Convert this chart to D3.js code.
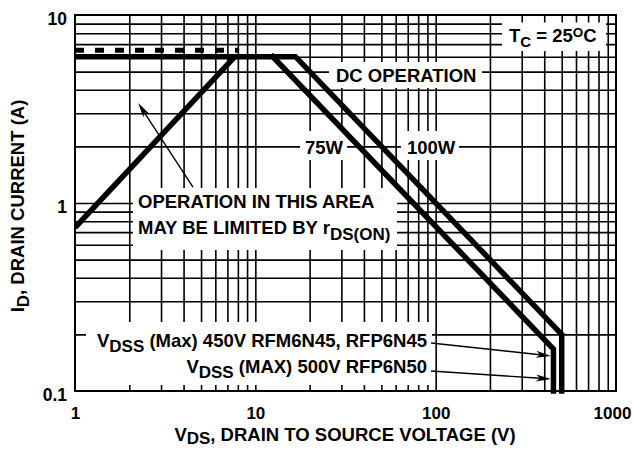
<!DOCTYPE html>
<html><head><meta charset="utf-8">
<script src="https://cdn.jsdelivr.net/npm/d3@7"></script>
<style>
body{margin:0;background:#fff}
text{font-family:"Liberation Sans",Arial,Helvetica,sans-serif;font-weight:bold;fill:#000}
</style>
</head><body>
<svg id="c" width="634" height="449"></svg>
<script>
// ---- data ----
const xTickValues = [1, 10, 100, 1000];
const xTickLabels = ["1", "10", "100", "1000"];
const yTickValues = [0.1, 1, 10];
const yTickLabels = ["0.1", "1", "10"];
const xGridValues = [2,3,4,5,6,7,8,9,10,20,30,40,50,60,70,80,90,100,200,300,400,500,600,700,800,900];
const yGridValues = [0.2,0.3,0.4,0.5,0.6,0.7,0.8,0.9,1,2,3,4,5,6,7,8,9];
// rDS(on) limit line
const rdsV = [1, 7.7];
const rdsI = [0.74, 6];
// dashed current limit
const dashV = [1, 8];
const dashI = [6.5, 6.5];
// 100W DC operation boundary (500V)
const w100V = [1, 16.7, 500, 500];
const w100I = [6, 6, 0.2, 0.1];
// 75W DC operation boundary (450V)
const w75V = [12.5, 450, 450];
const w75I = [6, 0.167, 0.1];

// ---- layout ----
const L = 75, R = 616, T = 15, B = 391;
const svg = d3.select("#c");
const x = d3.scaleLog().domain([1, 1000]).range([L, R]);
const y = d3.scaleLog().domain([0.1, 10]).range([B, T]);

// grid
const gx = svg.append("g").attr("transform", `translate(0,${B})`)
  .call(d3.axisBottom(x).tickValues(xGridValues).tickSize(-(B - T)).tickFormat(""));
const gy = svg.append("g").attr("transform", `translate(${L},0)`)
  .call(d3.axisLeft(y).tickValues(yGridValues).tickSize(-(R - L)).tickFormat(""));
[gx, gy].forEach(g => {
  g.select(".domain").remove();
  g.selectAll("line").attr("stroke", "#000").attr("stroke-width", 1.6);
});
svg.append("rect").attr("x", L).attr("y", T).attr("width", R - L).attr("height", B - T)
  .attr("fill", "none").attr("stroke", "#000").attr("stroke-width", 2);

// tick labels
const ax = svg.append("g").attr("transform", `translate(0,${B})`)
  .call(d3.axisBottom(x).tickValues(xTickValues).tickSize(0).tickPadding(16)
    .tickFormat((d, i) => xTickLabels[i]));
ax.select(".domain").remove();
ax.selectAll("text").attr("font-size", 17).attr("dy", 0).attr("y", 27.5)
  .attr("dx", d => d === 1000 ? -4 : 0);
const ay = svg.append("g").attr("transform", `translate(67,0)`)
  .call(d3.axisLeft(y).tickValues(yTickValues).tickSize(0).tickPadding(0)
    .tickFormat((d, i) => yTickLabels[i]));
ay.select(".domain").remove();
ay.selectAll("text").attr("font-size", 17.5).attr("dy", 9).attr("x", 0);
svg.selectAll(".tick text").attr("font-family", '"Liberation Sans",Arial,sans-serif')
  .attr("font-weight", "bold").attr("fill", "#000");

// white label boxes
const boxes = [
  [502, 22.5, 104, 28.5],   // Tc
  [329, 62, 153, 26],       // DC operation
  [300, 131, 47, 29],       // 75W
  [401, 131, 58, 29],       // 100W
  [133, 188, 264, 62],      // operation in this area
  [86, 322, 346, 63]        // VDSS
];
boxes.forEach(b => svg.append("rect").attr("x", b[0]).attr("y", b[1])
  .attr("width", b[2]).attr("height", b[3]).attr("fill", "#fff"));

// labels
const FS = 18.5, SUB = 17;
function label(xp, yp, parts, anchor) {
  const t = svg.append("text").attr("x", xp).attr("y", yp).attr("font-size", FS)
    .attr("text-anchor", anchor || "start");
  let cur = 0;
  parts.forEach(p => {
    const shift = p[1] || 0;
    t.append("tspan").attr("dy", shift - cur).attr("font-size", p[2] || FS).text(p[0]);
    cur = shift;
  });
  return t;
}
label(509, 42, [["T"], ["C", 5, 15], [" = 25", 0], ["O", -5, 13.5], ["C", 0]]);
label(336, 82, [["DC OPERATION"]]);
label(305, 154, [["75W"]]);
label(407, 154, [["100W"]]);
label(138, 208, [["OPERATION IN THIS AREA"]]);
label(138, 234, [["MAY BE LIMITED BY r"], ["DS(ON)", 6, SUB]]);
label(427, 347, [["V"], ["DSS", 5, SUB], [" (Max) 450V RFM6N45, RFP6N45", 0]], "end");
label(427, 373, [["V"], ["DSS", 5, SUB], [" (MAX) 500V RFP6N50", 0]], "end");
// axis titles
label(345, 441, [["V"], ["DS", 3, SUB], [", DRAIN TO SOURCE VOLTAGE (V)", 0]], "middle");
label(0, 0, [["I"], ["D", 5, SUB], [", DRAIN CURRENT (A)", 0]], "middle")
  .attr("transform", "translate(24,206) rotate(-90)");

// curves
svg.append("clipPath").attr("id", "clip").append("rect")
  .attr("x", L).attr("y", T - 10).attr("width", R - L).attr("height", B - T + 13);
const line = d3.line().x(d => x(d[0])).y(d => y(d[1]));
const zip = (a, b) => a.map((v, i) => [v, b[i]]);
const cg = svg.append("g").attr("clip-path", "url(#clip)");
cg.append("path").attr("d", line(zip(dashV, dashI))).attr("fill", "none")
  .attr("stroke", "#000").attr("stroke-width", 5).attr("stroke-dasharray", "9,11");
cg.append("path").attr("d", line(zip(rdsV, rdsI))).attr("fill", "none")
  .attr("stroke", "#000").attr("stroke-width", 5.5);
[zip(w100V, w100I), zip(w75V, w75I)].forEach(pts => {
  cg.append("path").attr("d", line(pts)).attr("fill", "none")
    .attr("stroke", "#000").attr("stroke-width", 5.5)
    .attr("stroke-linejoin", "miter").attr("stroke-linecap", "square");
});

// arrows (data coordinates)
const arrows = [
  [[4.51, 1.216], [2.24, 3.40]],
  [[94.3, 0.180], [436, 0.1536]],
  [[94.3, 0.1278], [436, 0.1159]]
];
arrows.forEach(a => {
  const x0 = x(a[0][0]), y0 = y(a[0][1]), x1 = x(a[1][0]), y1 = y(a[1][1]);
  const ang = Math.atan2(y1 - y0, x1 - x0);
  const len = 15, hw = 3.5, notch = 11;
  const bx = x1 - len * Math.cos(ang), by = y1 - len * Math.sin(ang);
  const nx = x1 - notch * Math.cos(ang), ny = y1 - notch * Math.sin(ang);
  const px = -Math.sin(ang), py = Math.cos(ang);
  svg.append("line").attr("x1", x0).attr("y1", y0).attr("x2", nx).attr("y2", ny)
    .attr("stroke", "#000").attr("stroke-width", 1.4);
  svg.append("path").attr("d",
    `M${x1},${y1}L${bx + px * hw},${by + py * hw}L${nx},${ny}L${bx - px * hw},${by - py * hw}Z`)
    .attr("fill", "#000");
});
</script>
</body></html>
